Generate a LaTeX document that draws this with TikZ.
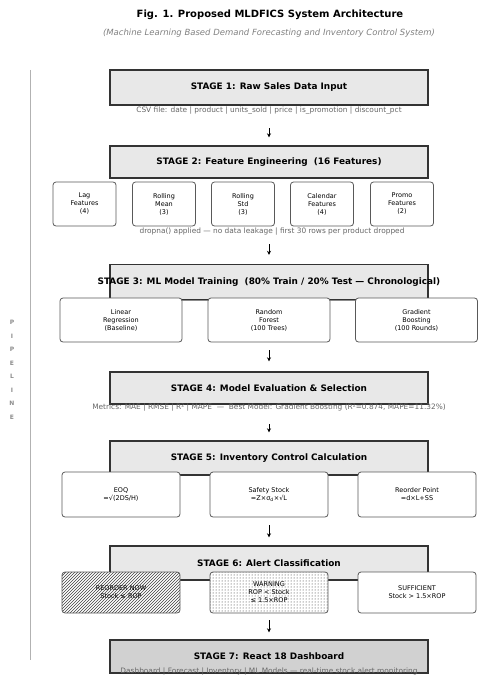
\documentclass[tikz,border=0pt]{standalone}
\usepackage{fontspec}
\setmainfont{DejaVu Sans}
\usetikzlibrary{positioning}
\usetikzlibrary{arrows.meta}
\usetikzlibrary{patterns}
\usetikzlibrary{shadows}

\begin{document}
\begin{tikzpicture}[x=1pt,y=-1pt,
      stage/.style={draw=black!80,line width=1.4pt,fill=black!9,minimum width=318pt,
        minimum height=34pt,inner sep=0pt,font=\fontsize{8.9}{10}\selectfont\bfseries,
        drop shadow={shadow xshift=1.2pt,shadow yshift=-1.2pt,fill=black!45,opacity=1}},
      sub/.style={draw=black!65,line width=0.8pt,rounded corners=3pt,fill=white,
        minimum height=44pt,inner sep=1pt,align=center,font=\fontsize{6.5}{8}\selectfont},
      note/.style={font=\fontsize{7.4}{8}\selectfont,text=black!60},
      flow/.style={-{Stealth[length=4pt,width=4pt]},line width=0.9pt},
    ]
    \useasboundingbox (0,0) rectangle (477,677);

    \node[font=\fontsize{10}{12}\selectfont\bfseries] (title) at (270,15)
        {Fig. 1. Proposed MLDFICS System Architecture};
    \node[font=\fontsize{8.5}{10}\selectfont\itshape,text=black!50] (subtitle) at (269,33)
        {(Machine Learning Based Demand Forecasting and Inventory Control System)};

    \coordinate (ltop) at (30,70);
    \coordinate (lbot) at (30,660);
    \draw[black!30,line width=0.8pt] (ltop) -- (lbot);
    \node[align=center,font=\fontsize{6}{13.5}\selectfont\bfseries,text=black!45] (side) at (12,370)
        {P\\I\\P\\E\\L\\I\\N\\E};

    % stage 1
    \node[stage,minimum height=35pt] (s1) at (269,87.5) {STAGE 1: Raw Sales Data Input};
    \node[note] (cap1) at (269,111)
        {CSV file: date | product | units\_sold | price | is\_promotion | discount\_pct};

    % stage 2
    \node[stage,minimum height=32pt] (s2) at (269,162) {STAGE 2: Feature Engineering \ (16 Features)};
    \node[sub,minimum width=63pt] (f1) at (84.5,204) {Lag\\Features\\(4)};
    \node[sub,minimum width=63pt] (f2) at (164,204) {Rolling\\Mean\\(3)};
    \node[sub,minimum width=63pt] (f3) at (243,204) {Rolling\\Std\\(3)};
    \node[sub,minimum width=63pt] (f4) at (322,204) {Calendar\\Features\\(4)};
    \node[sub,minimum width=63pt] (f5) at (402,204) {Promo\\Features\\(2)};
    \node[note] (cap2) at (272,232)
        {dropna() applied — no data leakage | first 30 rows per product dropped};

    % stage 3
    \node[stage,minimum height=35pt,
        label={[font=\fontsize{8.9}{10}\selectfont\bfseries]center:STAGE 3: ML Model Training \ (80\% Train / 20\% Test — Chronological)}]
        (s3) at (269,282) {};
    \node[sub,minimum width=122pt] (m1) at (121,320) {Linear\\Regression\\(Baseline)};
    \node[sub,minimum width=122pt] (m2) at (269,320) {Random\\Forest\\(100 Trees)};
    \node[sub,minimum width=122pt] (m3) at (416.5,320) {Gradient\\Boosting\\(100 Rounds)};

    % stage 4
    \node[stage,minimum height=32pt] (s4) at (269,388) {STAGE 4: Model Evaluation \& Selection};
    \node[note] (cap4) at (269,408)
        {Metrics: MAE | RMSE | R² | MAPE \ — \ Best Model: Gradient Boosting (R²=0.874, MAPE=11.32\%)};

    % stage 5
    \node[stage,minimum height=34pt] (s5) at (269,458) {STAGE 5: Inventory Control Calculation};
    \node[sub,minimum width=118pt,minimum height=45pt] (e1) at (121,494.5) {EOQ\\=√(2DS/H)};
    \node[sub,minimum width=118pt,minimum height=45pt] (e2) at (269,494.5) {Safety Stock\\=Z×σ\textsubscript{d}×√L};
    \node[sub,minimum width=118pt,minimum height=45pt] (e3) at (417,494.5) {Reorder Point\\=d×L+SS};

    % stage 6
    \node[stage,minimum height=34pt] (s6) at (269,563) {STAGE 6: Alert Classification};
    \node[sub,minimum width=118pt,minimum height=41pt,preaction={fill=white},
        pattern=north east lines,pattern color=black!75] (w1) at (121,592.5) {REORDER NOW\\Stock ≤ ROP};
    \node[sub,minimum width=118pt,minimum height=41pt,preaction={fill=white},
        pattern=dots,pattern color=black!85] (w2) at (269,592.5) {WARNING\\ROP < Stock\\≤ 1.5×ROP};
    \node[sub,minimum width=118pt,minimum height=41pt] (w3) at (417,592.5) {SUFFICIENT\\Stock > 1.5×ROP};

    % stage 7
    \node[stage,minimum height=33pt,fill=black!18] (s7) at (269,656.5) {STAGE 7: React 18 Dashboard};
    \node[note] (cap7) at (269,671.5)
        {Dashboard | Forecast | Inventory | ML Models — real-time stock alert monitoring};

    \draw[flow,shorten <=10pt,shorten >=8pt] (cap1) -- (s2);
    \draw[flow,shorten <=5pt,shorten >=9pt] (cap2.south -| s3.north) -- (s3);
    \draw[flow,shorten <=8pt,shorten >=10pt] (m2) -- (s4);
    \draw[flow,shorten <=9pt,shorten >=8pt] (cap4) -- (s5);
    \draw[flow,shorten <=8pt,shorten >=8pt] (e2) -- (s6);
    \draw[flow,shorten <=7pt,shorten >=7pt] (w2) -- (s7);
\end{tikzpicture}
\end{document}
